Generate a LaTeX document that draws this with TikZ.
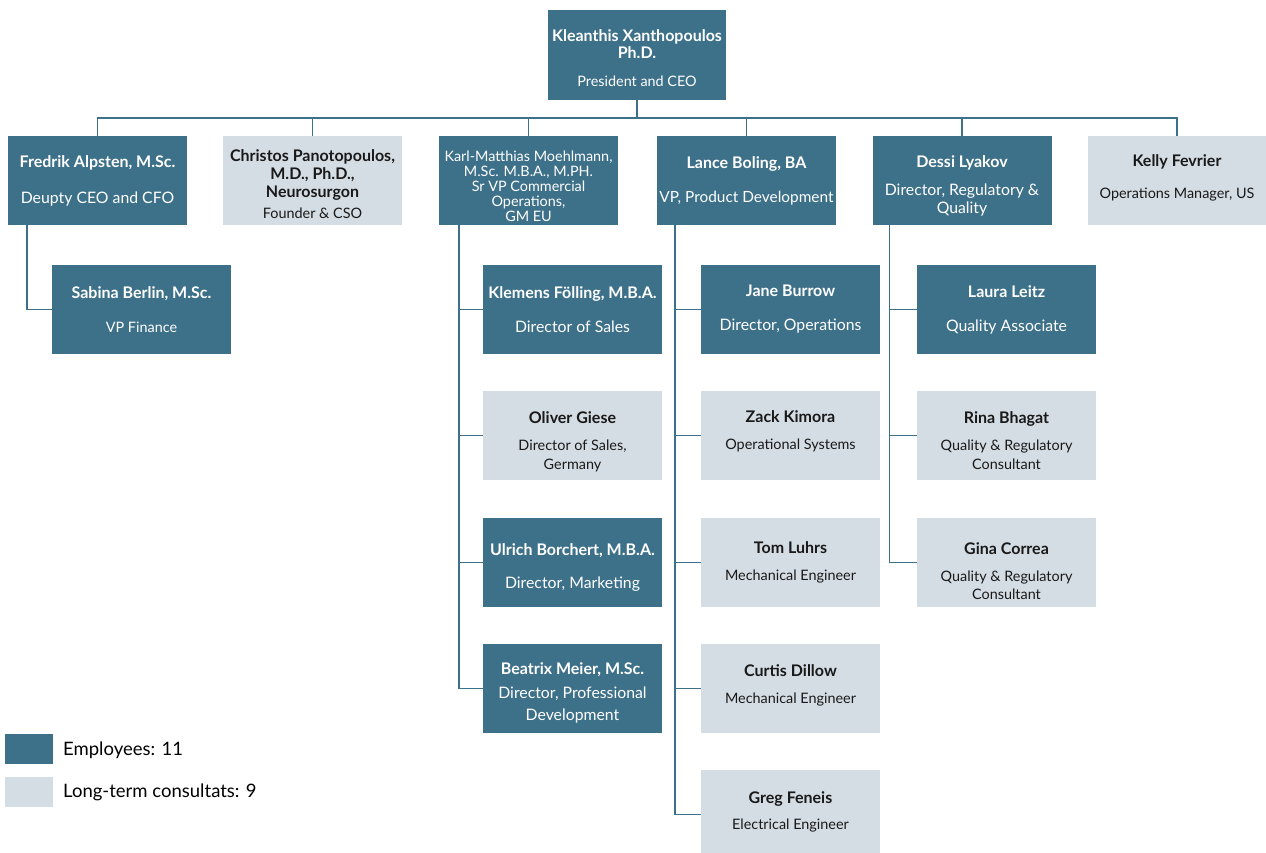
\documentclass[tikz,border=0pt]{standalone}
\usepackage{fontspec}
\setmainfont{Lato}
\usepackage{tikz}
\usetikzlibrary{positioning}
\definecolor{orgblue}{HTML}{3D7089}
\definecolor{orggrey}{HTML}{D5DDE4}
\newcommand{\nm}[1]{{\fontsize{16}{16}\selectfont\bfseries #1}}
\newcommand{\tb}[1]{{\fontsize{15.8}{16}\selectfont #1}}
\tikzset{
  box/.style={minimum width=179pt, minimum height=89pt, inner sep=2pt,
    align=center, font=\fontsize{14.4}{16}\selectfont},
  emp/.style={box, fill=orgblue, text=white},
  cons/.style={box, fill=orggrey, text=black!90},
  conn/.style={draw=orgblue, line width=1.5pt},
  legbox/.style={minimum width=48pt, minimum height=30pt, inner sep=0pt},
  legtext/.style={anchor=west, inner sep=0pt, font=\fontsize{18.5}{20}\selectfont},
}

\begin{document}
\begin{tikzpicture}[x=1pt, y=-1pt]
  \useasboundingbox (0,0) rectangle (1266,852);

  % top
  \node[emp, minimum width=178pt, minimum height=90pt] (ceo) at (637,55)
    {\rule{0pt}{17.5pt}\nm{Kleanthis Xanthopoulos}\\[1pt]\nm{Ph.D.}\\[12pt]President and CEO};

  % first row
  \node[emp] (fredrik) at (97.5,180.5)
    {\nm{Fredrik Alpsten, M.Sc.}\\[20pt]\tb{Deupty CEO and CFO}};
  \node[cons] (christos) at (312.5,180.5)
    {\rule{0pt}{19.5pt}\nm{Christos Panotopoulos,}\\[2pt]\nm{M.D., Ph.D.,}\\[2pt]\nm{Neurosurgon}\\[5pt]Founder \& CSO};
  \node[emp] (karl) at (528.5,180.5)
    {\rule{0pt}{22.5pt}Karl-Matthias Moehlmann,\\[-1pt]M.Sc. M.B.A., M.PH.\\[-1pt]Sr VP Commercial\\[-1pt]Operations,\\[-1pt]GM EU};
  \node[emp] (lance) at (746.5,180.5)
    {\nm{Lance Boling, BA}\\[18pt]{\fontsize{15.4}{16}\selectfont VP, Product Development}};
  \node[emp] (dessi) at (962,180.5)
    {\rule{0pt}{23pt}\nm{Dessi Lyakov}\\[12pt]\tb{Director, Regulatory \&}\\[2pt]\tb{Quality}};
  \node[cons] (kelly) at (1177,180.5)
    {\nm{Kelly Fevrier}\\[16pt]Operations Manager, US\rule[-7pt]{0pt}{7pt}};

  % finance
  \node[emp] (sabina) at (141.5,309.5)
    {\nm{Sabina Berlin, M.Sc.}\\[18pt]VP Finance};

  % commercial
  \node[emp] (klemens) at (572.5,309.5)
    {\nm{Klemens Fölling, M.B.A.}\\[18pt]\tb{Director of Sales}};
  \node[cons] (oliver) at (572.5,435.5)
    {\rule{0pt}{24pt}\nm{Oliver Giese}\\[11pt]Director of Sales,\\[3pt]Germany};
  \node[emp] (ulrich) at (572.5,562.5)
    {\rule{0pt}{22pt}\nm{Ulrich Borchert, M.B.A.}\\[17pt]\tb{Director, Marketing}};
  \node[emp] (beatrix) at (572.5,688.5)
    {\rule{0pt}{20pt}\nm{Beatrix Meier, M.Sc.}\\[8pt]\tb{Director, Professional}\\[6pt]\tb{Development}};

  % product development
  \node[emp] (jane) at (790.5,309.5)
    {\nm{Jane Burrow}\\[18pt]\tb{Director, Operations}};
  \node[cons] (zack) at (790.5,435.5)
    {\nm{Zack Kimora}\\[11pt]Operational Systems\rule[-11pt]{0pt}{11pt}};
  \node[cons] (tom) at (790.5,562.5)
    {\nm{Tom Luhrs}\\[11pt]Mechanical Engineer};
  \node[cons] (curtis) at (790.5,688.5)
    {\nm{Curtis Dillow}\\[11pt]Mechanical Engineer\rule[-9pt]{0pt}{9pt}};
  \node[cons] (greg) at (790.5,814.5)
    {\nm{Greg Feneis}\\[10pt]Electrical Engineer\rule[-8pt]{0pt}{8pt}};

  % regulatory
  \node[emp] (laura) at (1006.5,309.5)
    {\nm{Laura Leitz}\\[18pt]\tb{Quality Associate}};
  \node[cons] (rina) at (1006.5,435.5)
    {\rule{0pt}{22pt}\nm{Rina Bhagat}\\[11pt]Quality \& Regulatory\\[3pt]Consultant};
  \node[cons] (gina) at (1006.5,562.5)
    {\rule{0pt}{30pt}\nm{Gina Correa}\\[11pt]Quality \& Regulatory\\[2pt]Consultant};

  % connectors
  \foreach \c in {fredrik,christos,karl,lance,dessi,kelly}
    \draw[conn] (ceo.south) -- ++(0,18) -| (\c.north);
  \draw[conn] ([xshift=19pt]fredrik.south west) |- (sabina.west);
  \foreach \c in {klemens,oliver,ulrich,beatrix}
    \draw[conn] ([xshift=20pt]karl.south west) |- (\c.west);
  \foreach \c in {jane,zack,tom,curtis,greg}
    \draw[conn] ([xshift=18pt]lance.south west) |- (\c.west);
  \foreach \c in {laura,rina,gina}
    \draw[conn] ([xshift=17pt]dessi.south west) |- (\c.west);

  % legend
  \node[legbox, fill=orgblue] (legemp) at (29,749) {};
  \node[legbox, fill=orggrey] (legcons) at (29,792) {};
  \node[legtext] (legemptext) at (63,750) {Employees: 11};
  \node[legtext] (legconstext) at (63,792) {Long-term consultats: 9};
\end{tikzpicture}
\end{document}
